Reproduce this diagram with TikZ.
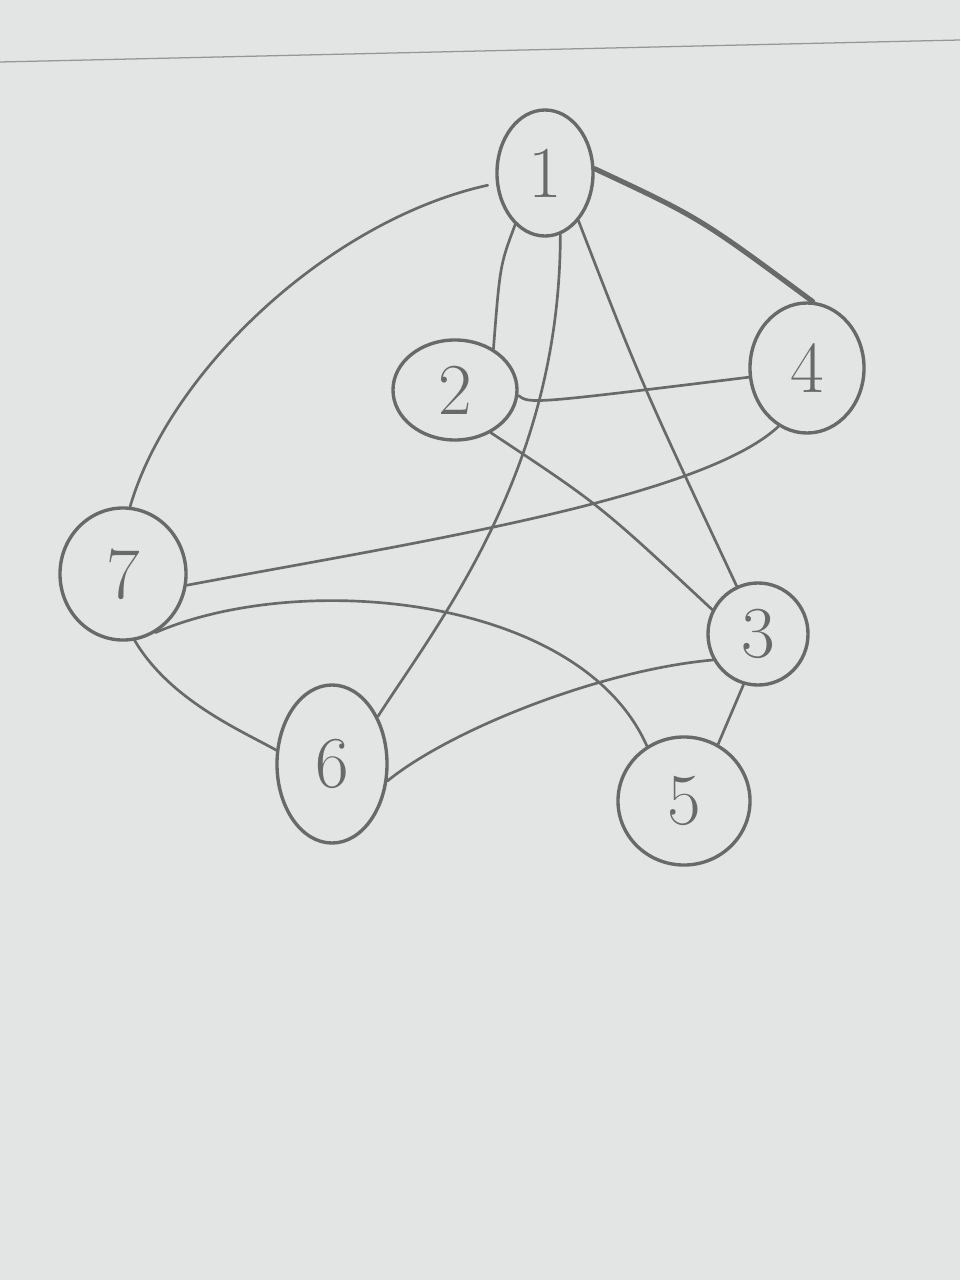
\documentclass[tikz,border=0pt]{standalone}
\usetikzlibrary{shapes.geometric}
\definecolor{paper}{RGB}{227,229,228}
\definecolor{pencil}{RGB}{105,105,105}
\tikzset{
  vtx/.style={ellipse, draw=pencil, line width=2.4pt, inner sep=0pt, text=pencil,
    font=\fontsize{52}{52}\selectfont},
  edge/.style={draw=pencil, line width=1.9pt, line cap=round},
  heavy/.style={draw=pencil, line width=3.6pt, line cap=round},
}
\begin{document}
\begin{tikzpicture}[x=0.025cm,y=-0.025cm]
\fill[paper] (0,0) rectangle (960,1280);
\useasboundingbox (0,0) rectangle (960,1280);
% ruled line of the paper
\draw[pencil!70, line width=0.9pt] (0,62) -- (960,40);
% vertices
\node[vtx, minimum width=2.4cm, minimum height=3.15cm] (n1) at (545,173) {1};
\node[vtx, minimum width=3.1cm, minimum height=2.5cm] (n2) at (455,390) {2};
\node[vtx, minimum width=2.85cm, minimum height=3.25cm] (n4) at (807,368) {4};
\node[vtx, minimum width=3.15cm, minimum height=3.3cm] (n7) at (123,574) {7};
\node[vtx, minimum width=2.5cm, minimum height=2.55cm] (n3) at (758,634) {3};
\node[vtx, minimum width=2.75cm, minimum height=3.95cm] (n6) at (332,764) {6};
\node[vtx, minimum width=3.3cm, minimum height=3.2cm] (n5) at (684,801) {5};
% edges
\draw[edge, shorten <=6pt] (n1.192) .. controls (330,220) and (170,370) .. (n7.84);
\draw[heavy] (n1.5) .. controls (700,218) .. (n4.85);
\draw[edge] (n1.240) .. controls (500,265) .. (n2.47);
\draw[edge] (n1.284) .. controls (560,470) and (440,620) .. (n6.46);
\draw[edge] (n1.305) .. controls (640,380) .. (n3.114);
\draw[edge] (n2.355) .. controls (530,404) .. (n4.189);
\draw[edge] (n2.310) .. controls (600,505) .. (n3.152);
\draw[edge] (n4.244) .. controls (700,500) and (400,545) .. (n7.350);
\draw[edge] (n7.299) .. controls (300,570) and (580,595) .. (n5.124);
\draw[edge] (n7.280) .. controls (170,700) and (240,730) .. (n6.166);
\draw[edge] (n6.343) .. controls (450,730) and (600,670) .. (n3.210);
\draw[edge] (n3.254) -- (n5.59);
\end{tikzpicture}
\end{document}
